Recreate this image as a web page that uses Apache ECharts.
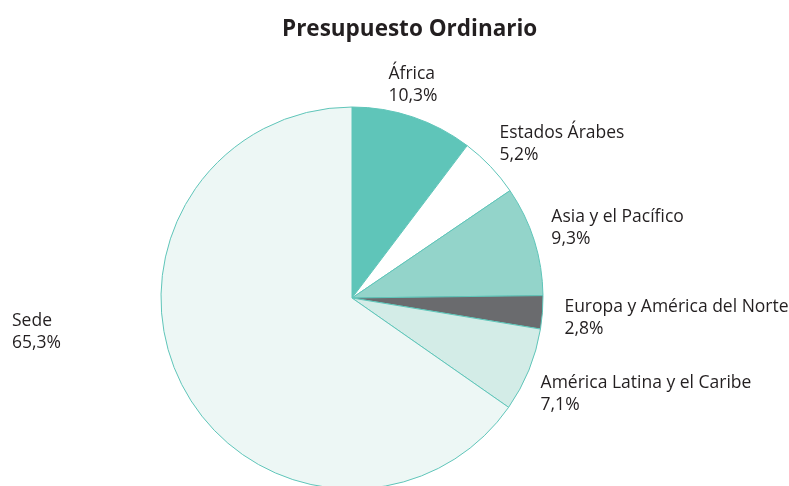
<!DOCTYPE html>
<html>
<head>
<meta charset="utf-8">
<script src="https://cdn.jsdelivr.net/npm/echarts@6/dist/echarts.min.js"></script>
<style>
  html, body { margin: 0; padding: 0; background: #fff; }
  #chart { width: 789px; height: 486px; }
</style>
</head>
<body>
<div id="chart"></div>
<script>
// regiones, en el orden de las agujas del reloj desde arriba
const regions = ['África', 'Estados Árabes', 'Asia y el Pacífico', 'Europa y América del Norte', 'América Latina y el Caribe', 'Sede'];
const shares = [10.3, 5.2, 9.3, 2.8, 7.1, 65.3];
const colors = ['#5fc5b9', '#ffffff', '#93d4ca', '#6a6b6e', '#d3ece7', '#edf7f5'];

const chart = echarts.init(document.getElementById('chart'));

const data = regions.map((name, i) => {
  const item = { name: name, value: shares[i], itemStyle: { color: colors[i] } };
  // la etiqueta de Sede va pegada al borde izquierdo
  if (name === 'Sede') {
    item.label = { alignTo: 'edge', edgeDistance: 12 };
  }
  return item;
});

// pequeños ajustes de las etiquetas para que coincidan con el original
const nudge = (i) => {
  switch (i) {
    case 0: return { dx: -35, dy: -15 };
    case 1: return { dx: -9, dy: -10 };
    case 2: return { dx: -5, dy: -7 };
    case 3: return { dx: -1, dy: 4 };
    case 4: return { dx: -10, dy: 17 };
    case 5: return { dy: -63 };
  }
  return {};
};

chart.setOption({
  title: {
    text: 'Presupuesto Ordinario',
    left: 277,
    top: 13,
    textStyle: {
      fontFamily: 'Open Sans',
      fontSize: 22.5,
      fontWeight: 'bold',
      color: '#231f20'
    }
  },
  series: [
    {
      type: 'pie',
      center: [352, 298],
      radius: 191,
      startAngle: 90,
      clockwise: true,
      avoidLabelOverlap: false,
      animation: false,
      itemStyle: {
        borderColor: '#5fc5b9',
        borderWidth: 1
      },
      label: {
        show: true,
        position: 'outside',
        fontFamily: 'Open Sans',
        fontSize: 17.5,
        lineHeight: 22,
        color: '#231f20',
        formatter: p => p.name + '\n' + p.value.toFixed(1).replace('.', ',') + '%'
      },
      labelLine: { show: false, length: 18, length2: 0 },
      labelLayout: p => nudge(p.dataIndex),
      emphasis: { disabled: true },
      data: data
    }
  ]
});
</script>
</body>
</html>
